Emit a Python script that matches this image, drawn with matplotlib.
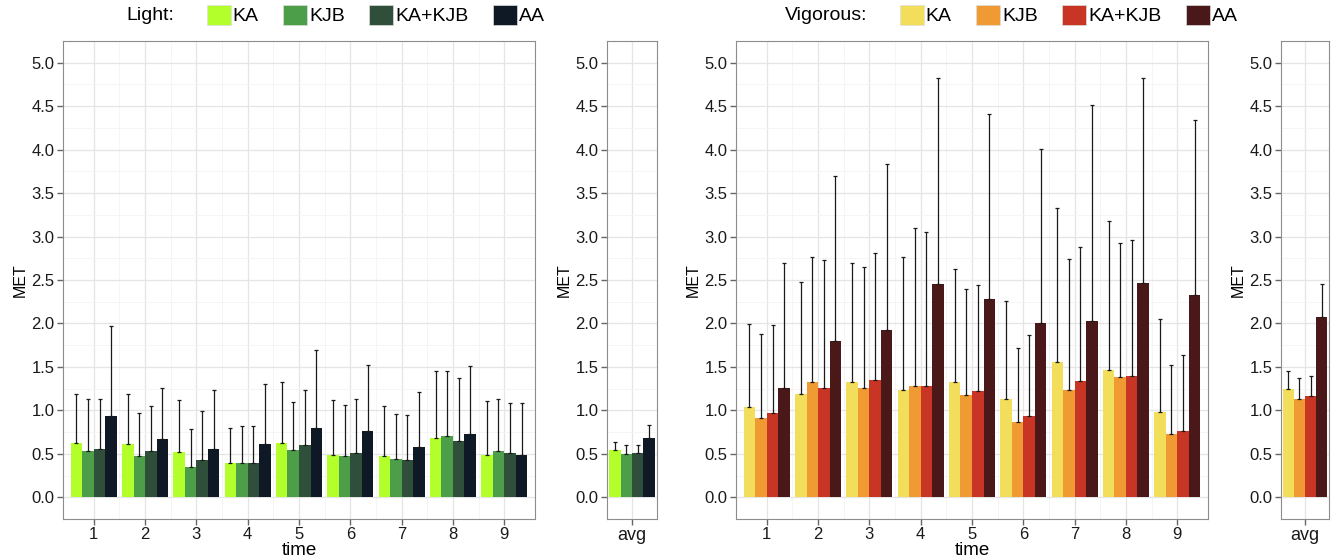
import matplotlib.pyplot as plt
import numpy as np
from matplotlib.patches import Patch

plt.rcParams['font.family'] = ['Liberation Sans', 'DejaVu Sans']

groups = ['KA', 'KJB', 'KA+KJB', 'AA']
times = [1, 2, 3, 4, 5, 6, 7, 8, 9]

# Light: mean and upper end of error bar per group (rows) over time (cols)
light_mean = [
    [0.62, 0.61, 0.52, 0.40, 0.62, 0.49, 0.48, 0.68, 0.49],
    [0.53, 0.48, 0.35, 0.39, 0.54, 0.48, 0.44, 0.70, 0.53],
    [0.56, 0.53, 0.43, 0.39, 0.60, 0.51, 0.43, 0.65, 0.51],
    [0.93, 0.67, 0.55, 0.61, 0.80, 0.76, 0.58, 0.73, 0.49],
]
light_upper = [
    [1.19, 1.19, 1.12, 0.80, 1.33, 1.12, 1.05, 1.45, 1.11],
    [1.13, 0.97, 0.79, 0.82, 1.10, 1.06, 0.96, 1.45, 1.13],
    [1.13, 1.05, 0.99, 0.82, 1.24, 1.13, 0.95, 1.37, 1.08],
    [1.97, 1.26, 1.24, 1.30, 1.69, 1.52, 1.21, 1.51, 1.09],
]
light_avg_mean = [0.54, 0.50, 0.51, 0.68]
light_avg_upper = [0.64, 0.60, 0.60, 0.83]

vig_mean = [
    [1.04, 1.19, 1.33, 1.23, 1.33, 1.13, 1.56, 1.47, 0.98],
    [0.91, 1.33, 1.26, 1.28, 1.18, 0.87, 1.24, 1.38, 0.73],
    [0.97, 1.26, 1.35, 1.28, 1.22, 0.93, 1.34, 1.40, 0.76],
    [1.26, 1.80, 1.92, 2.45, 2.28, 2.00, 2.03, 2.47, 2.33],
]
vig_upper = [
    [1.99, 2.48, 2.70, 2.76, 2.63, 2.26, 3.33, 3.18, 2.05],
    [1.88, 2.76, 2.65, 3.10, 2.40, 1.72, 2.74, 2.93, 1.52],
    [1.98, 2.73, 2.81, 3.05, 2.44, 1.87, 2.88, 2.96, 1.64],
    [2.69, 3.70, 3.83, 4.82, 4.41, 4.01, 4.51, 4.82, 4.34],
]
vig_avg_mean = [1.25, 1.13, 1.17, 2.07]
vig_avg_upper = [1.45, 1.37, 1.39, 2.45]

light_colors = ['#B2FF2B', '#4C9E48', '#2F4F3B', '#0F1925']
vig_colors = ['#F2DE5A', '#EF9A32', '#C83524', '#4A1818']

W = 1336
H = 558
fig = plt.figure(figsize=(W / 100, H / 100), dpi=100)


def px_axes(x0, x1, y0=41, y1=519):
    return fig.add_axes([x0 / W, (H - y1) / H, (x1 - x0) / W, (y1 - y0) / H])


def style(ax):
    ax.set_ylim(-0.25, 5.25)
    ax.set_yticks(np.arange(0, 5.01, 0.5))
    ax.set_yticks(np.arange(0.25, 5.1, 0.5), minor=True)
    ax.set_yticklabels([f'{v:.1f}' for v in np.arange(0, 5.01, 0.5)])
    ax.grid(True, which='major', color='#E5E5E5', lw=0.9)
    ax.grid(True, which='minor', color='#F4F4F4', lw=0.6)
    ax.set_axisbelow(True)
    for s in ax.spines.values():
        s.set_color('#8C8C8C')
    ax.tick_params(which='major', length=4, width=1, color='#666666', labelsize=12,
                   labelcolor='#1a1a1a', pad=2)
    ax.tick_params(which='minor', length=0)
    ax.set_ylabel('MET', fontsize=11.5, labelpad=3)


def draw(ax, xs, means, uppers, colors):
    bw = 0.225
    for i in range(4):
        x = np.array(xs) + (i - 1.5) * bw
        m = np.array(means[i])
        u = np.array(uppers[i])
        ax.bar(x, m, width=bw, color=colors[i], linewidth=0)
        ax.errorbar(x, m, yerr=[np.zeros_like(m), u - m], fmt='none',
                    ecolor='#1a1a1a', elinewidth=0.9, capsize=1.5, capthick=0.9)


panels = [
    (63, 535, 607, 657, light_mean, light_upper, light_avg_mean, light_avg_upper, light_colors),
    (736, 1208, 1281, 1329, vig_mean, vig_upper, vig_avg_mean, vig_avg_upper, vig_colors),
]

for mx0, mx1, ax0, ax1_, mean, upper, amean, aupper, cols in panels:
    ax = px_axes(mx0, mx1)
    style(ax)
    draw(ax, times, mean, upper, cols)
    ax.set_xlim(0.4, 9.6)
    ax.set_xticks(times)
    ax.set_xticks(np.arange(1.5, 9, 1), minor=True)
    ax.set_xlabel('time', fontsize=13.5, labelpad=0)

    aax = px_axes(ax0, ax1_)
    style(aax)
    draw(aax, [1], [[v] for v in amean], [[v] for v in aupper], cols)
    aax.set_xlim(0.51, 1.49)
    aax.set_xticks([1])
    aax.set_xticklabels(['avg'], fontsize=13)

# legends on top
legend_specs = [
    ('Light:', 174, 197, light_colors),
    ('Vigorous:', 867, 890, vig_colors),
]
for title, tx, lx, cols in legend_specs:
    fig.text(tx / W, 1 - 15 / H, title, ha='right', va='center', fontsize=14)
    handles = [Patch(facecolor=c, edgecolor='#DDDDDD', linewidth=0.5) for c in cols]
    fig.legend(handles, groups, loc='center left', bbox_to_anchor=(lx / W, 1 - 15 / H),
               ncol=4, frameon=False, fontsize=14, borderpad=0, handlelength=1.24,
               handleheight=1.24, handletextpad=0.1, columnspacing=1.25)

fig.savefig('out.png', dpi=100)
